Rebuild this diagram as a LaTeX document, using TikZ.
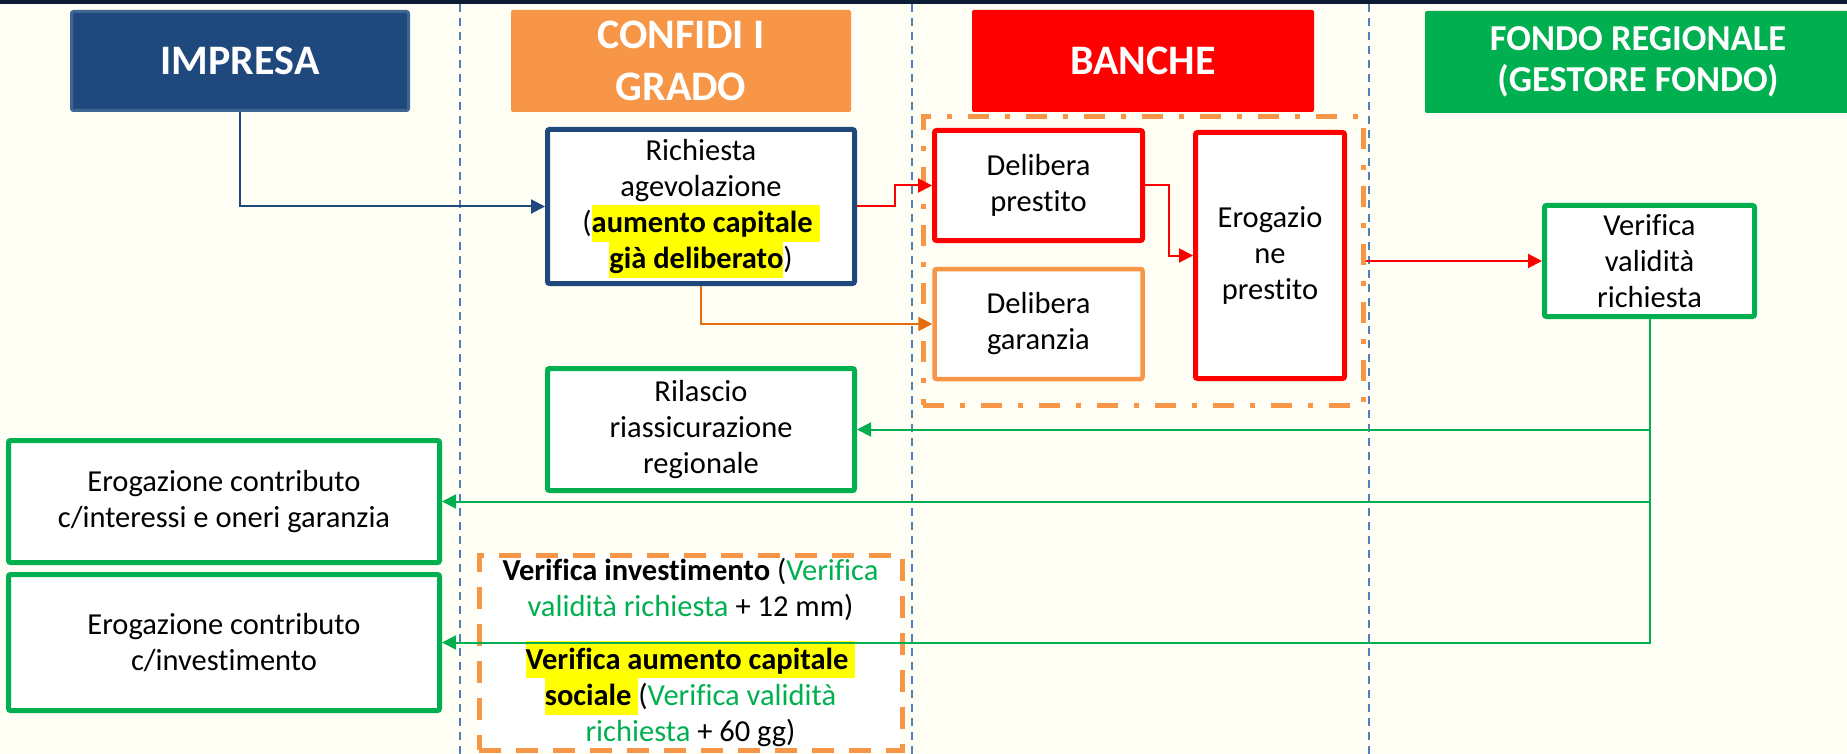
\documentclass[tikz,border=0pt]{standalone}
\usepackage{fontspec}
\setmainfont{Carlito}[Ligatures=NoCommon]
\usetikzlibrary{arrows.meta,calc}
\definecolor{bgcol}{HTML}{FFFEF5}
\definecolor{bandcol}{HTML}{0C1B36}
\definecolor{navy}{HTML}{1F497D}
\definecolor{navyedge}{HTML}{3F6592}
\definecolor{orng}{HTML}{F79646}
\definecolor{orngline}{HTML}{E46C0A}
\definecolor{rd}{HTML}{FF0000}
\definecolor{grn}{HTML}{00B050}
\definecolor{lanecol}{HTML}{4F81BD}
\definecolor{hlyellow}{HTML}{FFFF00}
\newsavebox\hlbox
\newcommand\hlt[1]{\sbox\hlbox{#1}\smash{\rlap{\textcolor{hlyellow}{\rule[-9pt]{\wd\hlbox}{37pt}}}}\usebox\hlbox}
\newcommand\bodyfont{\fontsize{30.5}{36}\selectfont}
\begin{document}
\begin{tikzpicture}[x=1pt,y=-1pt,font=\bodyfont,
  head/.style={text=white,font=\fontsize{42}{52}\selectfont\bfseries,align=center,inner sep=0pt,rounded corners=2pt},
  procbox/.style={draw,fill=white,line width=5pt,align=center,inner sep=0pt,rounded corners=2pt},
  conn/.style={line width=2pt,-{Triangle[length=14pt,width=14pt]}},
  laneline/.style={draw=lanecol,line width=2pt,dash pattern=on 8pt off 6pt}]
\fill[bgcol] (0,0) rectangle (1847,754);
\useasboundingbox (0,0) rectangle (1847,754);
\fill[bandcol] (0,0) rectangle (1847,4);
% swimlane separators
\draw[laneline] (460,4) -- (460,754);
\draw[laneline] (912,4) -- (912,754);
\draw[laneline] (1369,4) -- (1369,754);
% headers
\node[head,fill=navy,draw=navyedge,line width=3pt,minimum width=337pt,minimum height=99pt] (imp) at (240,61) {IMPRESA};
\node[head,fill=orng,minimum width=340pt,minimum height=102pt] (conf) at (681,61) {CONFIDI I\\GRADO};
\node[head,fill=rd,minimum width=342pt,minimum height=102pt] (banc) at (1143,61) {BANCHE};
\node[head,fill=grn,font=\fontsize{36.5}{41}\selectfont\bfseries,minimum width=426pt,minimum height=102pt] (fondo) at (1638,62) {FONDO REGIONALE\\(GESTORE FONDO)};
% process boxes
\node[procbox,draw=navy,minimum width=307pt,minimum height=154pt] (rich) at (701,206.5) {Richiesta\\agevolazione\\(\textbf{\hlt{aumento capitale\ }}\\\textbf{\hlt{già deliberato}})};
\node[draw=orng,line width=5pt,dash pattern=on 21pt off 16pt on 5pt off 16pt,minimum width=440pt,minimum height=288pt,inner sep=0pt] (grp) at (1143,261) {};
\node[procbox,draw=rd,minimum width=208pt,minimum height=110pt] (prest) at (1038.5,185.5) {Delibera\\prestito};
\node[procbox,draw=orng,line width=4.5pt,minimum width=208pt,minimum height=110pt] (garan) at (1038.5,324) {Delibera\\garanzia};
\node[procbox,draw=rd,minimum width=149pt,minimum height=246pt] (erog) at (1270,255.5) {Erogazio\\ne\\prestito};
\node[procbox,draw=grn,minimum width=210pt,minimum height=111pt] (ver) at (1649.5,261) {Verifica\\validità\\richiesta};
\node[procbox,draw=grn,minimum width=307pt,minimum height=122pt] (ril) at (701,429.5) {Rilascio\\riassicurazione\\regionale};
\node[procbox,draw=grn,minimum width=431pt,minimum height=122pt] (eint) at (224,501.5) {Erogazione contributo\\c/interessi e oneri garanzia};
\node[procbox,draw=grn,minimum width=431pt,minimum height=136pt] (einv) at (224,642.5) {Erogazione contributo\\c/investimento};
\node[draw=orng,fill=white,line width=5pt,dash pattern=on 22pt off 15pt,minimum width=423pt,minimum height=195pt,inner sep=0pt] (vbox) at (690.5,652.5) {};
\node[anchor=north,align=center,inner sep=0pt] (vtxt) at (690.5,558) {\textbf{Verifica investimento} (\textcolor{grn}{Verifica}\\\textcolor{grn}{validità richiesta} + 12 mm)\\[17pt]\textbf{\hlt{Verifica aumento capitale\ }}\\\textbf{\hlt{sociale\ }}(\textcolor{grn}{Verifica validità}\\\textcolor{grn}{richiesta} + 60 gg)};
% connectors
\draw[conn,draw=navy] (imp.south) |- (rich.west);
\draw[conn,draw=rd] (rich.east) -| ($(rich.east)!0.5!(prest.west)$) |- (prest.west);
\draw[conn,draw=orngline] (rich.south) |- (garan.west);
\draw[conn,draw=rd] (prest.east) -| ($(prest.east)!0.5!(erog.west)$) |- (erog.west);
\draw[conn,draw=rd] (grp.east) -- (ver.west);
\draw[conn,draw=grn] (ver.south) |- (ril.east);
\draw[conn,draw=grn] (ver.south) |- (eint.east);
\draw[conn,draw=grn] (ver.south) |- (einv.east);
\end{tikzpicture}
\end{document}
